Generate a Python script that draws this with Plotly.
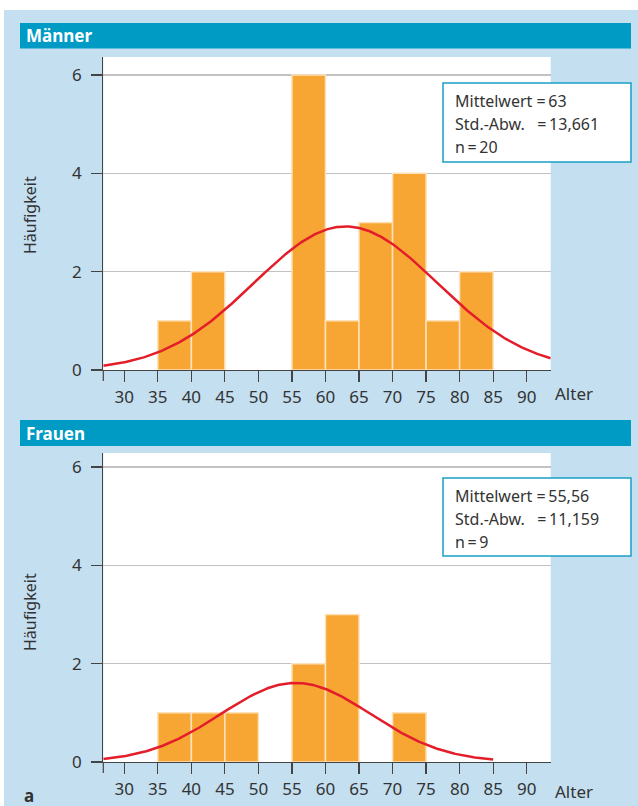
import numpy as np
import plotly.graph_objects as go

# ---------------- data ----------------
bin_width = 5
m_bins = [35, 40, 55, 60, 65, 70, 75, 80]
m_counts = [1, 2, 6, 1, 3, 4, 1, 2]
m_mean, m_sd, m_n = 63, 13.661, 20

f_bins = [35, 40, 45, 55, 60, 70]
f_counts = [1, 1, 1, 2, 3, 1]
f_mean, f_sd, f_n = 55.56, 11.159, 9

x_ticks = [30, 35, 40, 45, 50, 55, 60, 65, 70, 75, 80, 85, 90]
y_ticks = [0, 2, 4, 6]

m_stats = ["Mittelwert =\u200963", "Std.-Abw.\u00a0\u00a0\u00a0=\u200913,661", "n\u2009=\u200920"]
f_stats = ["Mittelwert =\u200955,56", "Std.-Abw.\u00a0\u00a0\u00a0=\u200911,159", "n\u2009=\u20099"]

# ---------------- layout helpers ----------------
W, H = 638, 806
def px(x):
    return x / W
def py(y):
    return 1 - y / H

XR = [26.87, 93.58]
FONT = "Noto Sans"
BAR = "#f8a633"
BAR_EDGE = "#fde2bb"
RED = "#e31e2a"
AX = "#444444"
HEAD = "#009bc5"
BG = "#c3dff0"
BOX = "#1a9fc8"


def normal_curve(mean, sd, n, x0, x1):
    xs = np.linspace(x0, x1, 300)
    ys = n * bin_width / (sd * np.sqrt(2 * np.pi)) * np.exp(-0.5 * ((xs - mean) / sd) ** 2)
    return xs, ys


fig = go.Figure()

# Männer
fig.add_trace(go.Bar(x=[b + bin_width / 2 for b in m_bins], y=m_counts, width=bin_width,
                     marker=dict(color=BAR, line=dict(color=BAR_EDGE, width=1.5)),
                     xaxis="x", yaxis="y", showlegend=False, hoverinfo="skip"))
xs, ys = normal_curve(m_mean, m_sd, m_n, XR[0], XR[1])
fig.add_trace(go.Scatter(x=xs, y=ys, mode="lines", line=dict(color=RED, width=2.5),
                         xaxis="x", yaxis="y", showlegend=False, hoverinfo="skip"))

# Frauen
fig.add_trace(go.Bar(x=[b + bin_width / 2 for b in f_bins], y=f_counts, width=bin_width,
                     marker=dict(color=BAR, line=dict(color=BAR_EDGE, width=1.5)),
                     xaxis="x2", yaxis="y2", showlegend=False, hoverinfo="skip"))
xs, ys = normal_curve(f_mean, f_sd, f_n, XR[0], 85)
fig.add_trace(go.Scatter(x=xs, y=ys, mode="lines", line=dict(color=RED, width=2.5),
                         xaxis="x2", yaxis="y2", showlegend=False, hoverinfo="skip"))

xcommon = dict(range=XR, tickvals=x_ticks, ticks="outside", ticklen=11, tickwidth=1.2,
               tickcolor=AX, showline=True, linecolor=AX, linewidth=1.2, showgrid=False,
               zeroline=False, tickfont=dict(family=FONT, size=17, color="#333"),
               domain=[px(103.3), px(550.7)], fixedrange=True, automargin=False)
ycommon = dict(tickvals=y_ticks, ticks="outside", ticklen=11, tickwidth=1.2, tickcolor=AX,
               showline=True, linecolor=AX, linewidth=1.2, showgrid=True,
               gridcolor="#c2c2c2", gridwidth=1.5, zeroline=False,
               tickfont=dict(family=FONT, size=17, color="#333"), ticklabelstandoff=6,
               fixedrange=True, automargin=False)

fig.update_layout(
    width=W, height=H, autosize=False, margin=dict(l=0, r=0, t=0, b=0, pad=0),
    paper_bgcolor=BG, plot_bgcolor="white", bargap=0,
    font=dict(family=FONT, color="#333"),
    xaxis=dict(**xcommon, anchor="y"),
    yaxis=dict(**ycommon, range=[0, 6.366], domain=[py(370), py(57)], anchor="x"),
    xaxis2=dict(**xcommon, anchor="y2"),
    yaxis2=dict(**ycommon, range=[0, 6.285], domain=[py(762), py(453)], anchor="x2"),
)

shapes = []
# white page strips (top and left) around the light blue panel
shapes.append(dict(type="rect", xref="paper", yref="paper", x0=0, x1=1, y0=py(10), y1=1,
                   fillcolor="white", line=dict(width=0), layer="below"))
shapes.append(dict(type="rect", xref="paper", yref="paper", x0=0, x1=px(4), y0=0, y1=1,
                   fillcolor="white", line=dict(width=0), layer="below"))
# header bars
for top, bot in [(23, 48.5), (420, 446)]:
    shapes.append(dict(type="rect", xref="paper", yref="paper", x0=px(20), x1=px(631), y0=py(bot), y1=py(top),
                       fillcolor=HEAD, line=dict(width=0), layer="below"))
# y-axis line extension below x axis
for ya in [370, 762]:
    shapes.append(dict(type="line", xref="paper", yref="paper", x0=px(103.3), x1=px(103.3),
                       y0=py(ya + 11), y1=py(ya), line=dict(color=AX, width=1.2)))
# info boxes
for top, bot in [(83, 162), (478, 556)]:
    shapes.append(dict(type="rect", xref="paper", yref="paper", x0=px(443), x1=px(631), y0=py(bot), y1=py(top),
                       fillcolor="white", line=dict(color=BOX, width=1.5), layer="above"))

ann = []
# headers
ann.append(dict(text="<b>Männer</b>", x=px(24), y=py(35.5), xref="paper", yref="paper",
                xanchor="left", yanchor="middle", showarrow=False, font=dict(family=FONT, size=17, color="white")))
ann.append(dict(text="<b>Frauen</b>", x=px(24), y=py(433), xref="paper", yref="paper",
                xanchor="left", yanchor="middle", showarrow=False, font=dict(family=FONT, size=17, color="white")))
# y titles
for yc in [215, 612]:
    ann.append(dict(text="Häufigkeit", x=px(30), y=py(yc), xref="paper", yref="paper", textangle=-90,
                    xanchor="center", yanchor="middle", showarrow=False, font=dict(family=FONT, size=16, color="#333")))
# Alter labels
for yc in [393, 791]:
    ann.append(dict(text="Alter", x=px(553), y=py(yc), xref="paper", yref="paper",
                    xanchor="left", yanchor="middle", showarrow=False, font=dict(family=FONT, size=17, color="#333")))
# stats text
for top, lines in [(83, m_stats), (478, f_stats)]:
    for i, t in enumerate(lines):
        ann.append(dict(text=t, x=px(453), y=py(top + 18 + 23 * i), xref="paper", yref="paper",
                        xanchor="left", yanchor="middle", showarrow=False,
                        font=dict(family=FONT, size=16, color="#333")))
# panel label
ann.append(dict(text="<b>a</b>", x=px(22), y=py(795), xref="paper", yref="paper",
                xanchor="left", yanchor="middle", showarrow=False, font=dict(family=FONT, size=17, color="#333")))

fig.update_layout(shapes=shapes, annotations=ann)
fig.write_html("out.html", config={"displayModeBar": False, "staticPlot": True},
               post_script="document.body.style.margin='0';document.body.style.padding='0';"
                           "document.body.style.overflow='hidden';")
